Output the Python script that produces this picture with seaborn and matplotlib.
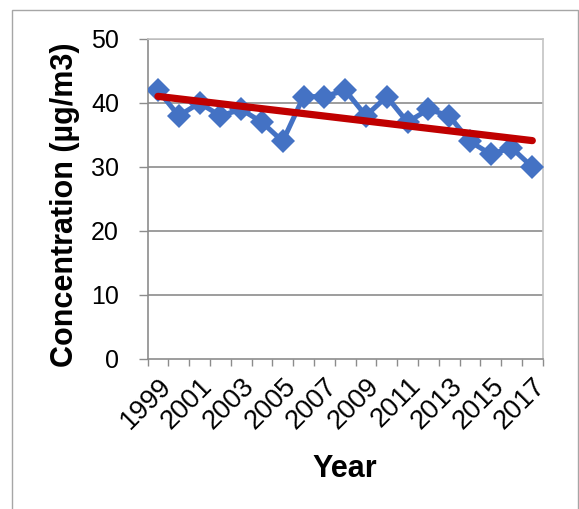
import numpy as np
import pandas as pd
import matplotlib
matplotlib.use("Agg")
import matplotlib.pyplot as plt
import matplotlib.transforms as mtransforms
import seaborn as sns
from matplotlib.patches import Rectangle

years = list(range(1999, 2018))
concentration = [42, 38, 40, 38, 39, 37, 34, 41, 41, 42, 38, 41, 37, 39, 38, 34, 32, 33, 30]
year_labels = [str(y) for y in range(1999, 2018, 2)]
y_ticks = [0, 10, 20, 30, 40, 50]

df = pd.DataFrame({"Year": years, "Concentration": concentration})

sns.set_theme(style="white")
plt.rcParams["font.family"] = ["Liberation Sans", "DejaVu Sans"]
plt.rcParams["text.color"] = "black"
plt.rcParams["axes.labelcolor"] = "black"
plt.rcParams["xtick.color"] = "black"
plt.rcParams["ytick.color"] = "black"

fig = plt.figure(figsize=(5.79, 5.09), dpi=100)
ax = fig.add_axes([0.2548, 0.2947, 0.6825, 0.6287])

# chart frame
fig.patches.append(Rectangle((12 / 579, -0.05), (578 - 12) / 579, 1 - 10 / 509 + 0.05,
                             transform=fig.transFigure, fill=False,
                             edgecolor="#a6a6a6", linewidth=1.0, zorder=0))

blue = "#4472C4"
red = "#C00000"

sns.lineplot(data=df, x="Year", y="Concentration", ax=ax, color=blue,
             linewidth=3.6, marker="D", markersize=12.5, markeredgewidth=0,
             markerfacecolor=blue, zorder=3)
sns.regplot(data=df, x="Year", y="Concentration", ax=ax, scatter=False, ci=None,
            truncate=True,
            line_kws=dict(color=red, linewidth=5.2, solid_capstyle="round", zorder=4))

ax.set_xlim(1998.5, 2017.5)
ax.set_ylim(0, 50)
ax.set_yticks(y_ticks)
ax.set_yticklabels([str(t) for t in y_ticks], fontsize=18)
for t in y_ticks[1:]:
    ax.axhline(t, color="#8c8c8c", linewidth=1.2, zorder=1)

# category boundary ticks and odd-year labels
ax.set_xticks(np.arange(1998.5, 2018.0, 1.0))
ax.set_xticklabels([])
ax.set_xticks(list(range(1999, 2018, 2)), minor=True)
ax.set_xticklabels(year_labels, minor=True, rotation=45, ha="right",
                   rotation_mode="anchor", fontsize=19.5)
shift = mtransforms.ScaledTranslation(-5 / 100, 0, fig.dpi_scale_trans)
for lbl in ax.get_xticklabels(minor=True):
    lbl.set_transform(lbl.get_transform() + shift)
ax.tick_params(axis="x", which="major", length=5, width=1, color="#8c8c8c",
               direction="out", bottom=True)
ax.tick_params(axis="x", which="minor", length=0, pad=10, bottom=True)
ax.tick_params(axis="y", length=6.5, width=1, color="#8c8c8c", direction="out",
               left=True, pad=14)

for side in ["left", "bottom"]:
    ax.spines[side].set_color("#8c8c8c")
    ax.spines[side].set_linewidth(1.2)
for side in ["top", "right"]:
    ax.spines[side].set_color("#c4c4c4")
    ax.spines[side].set_linewidth(1.2)
    ax.spines[side].set_visible(True)

ax.set_xlabel("Year", fontsize=22, fontweight="bold", labelpad=14)
ax.set_ylabel("Concentration (µg/m3)", fontsize=22, fontweight="bold", labelpad=8)
ax.yaxis.label.set_y(0.481)

fig.savefig("out.png", dpi=100, facecolor="white")
